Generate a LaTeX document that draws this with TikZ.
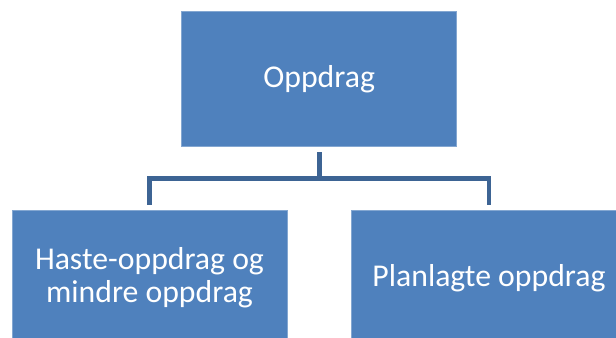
\documentclass[tikz,border=0pt]{standalone}
\usepackage{fontspec}
\setmainfont{Carlito}
\usepackage{xcolor}
\usepackage{tikz}
\usetikzlibrary{calc}

\definecolor{boxblue}{RGB}{79,129,189}
\definecolor{linkblue}{RGB}{61,100,148}
\tikzset{
  orgbox/.style={fill=boxblue,draw=boxblue!70!white,line width=0.6pt,
    minimum width=206.2pt,minimum height=100.7pt,inner sep=0pt,
    text=white,align=center,font=\fontsize{23.8}{25}\selectfont},
  link/.style={draw=linkblue,line width=3.5pt,line join=miter}
}

\begin{document}
\begin{tikzpicture}[x=0.75pt,y=0.75pt,yscale=-1,xscale=1]
\useasboundingbox (0,0) rectangle (616,338);
\clip (0,0) rectangle (616,338);
% boxes
\node[orgbox] (top) at (319.2,78.9) {Oppdrag};
\node[orgbox] (haste) at (149.5,277.9) {Haste-oppdrag og\\mindre oppdrag};
\node[orgbox] (plan) at (489,277.9) {Planlagte oppdrag};
% connectors
\coordinate (fork) at ($(top.south)+(0,32.3)$);
\draw[link] ($(top.south)+(0,6)$) -- (fork) -| ($(haste.north)-(0,5.5)$);
\draw[link] (fork) -| ($(plan.north)-(0,5.5)$);
\end{tikzpicture}
\end{document}
